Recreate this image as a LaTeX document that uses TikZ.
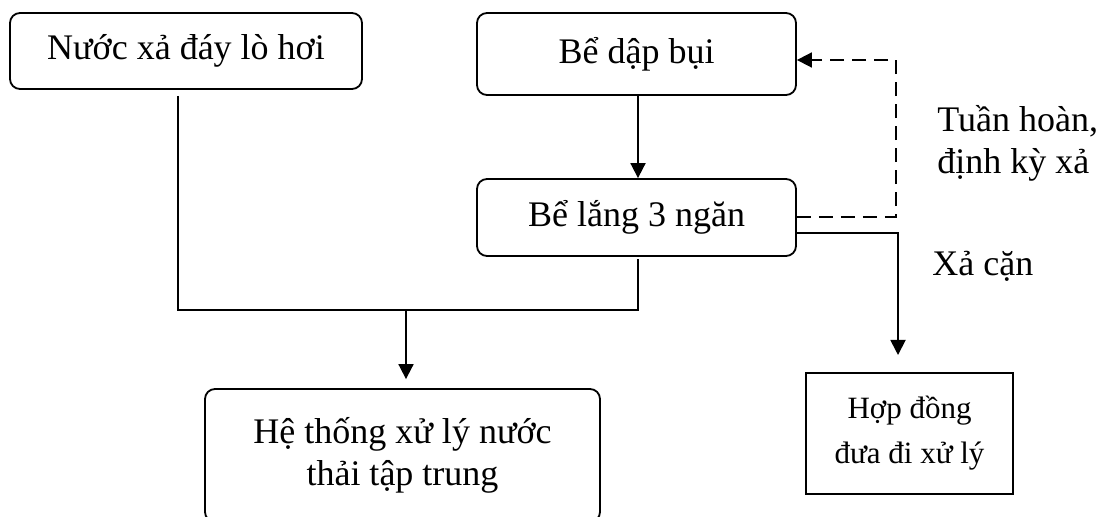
\documentclass[tikz,border=0pt]{standalone}
\usepackage{fontspec}
\setmainfont{Liberation Serif}
\usetikzlibrary{arrows.meta,calc}
\begin{document}
\begin{tikzpicture}[x=0.5pt,y=-0.5pt,
  every node/.style={inner sep=0pt,font=\fontsize{18pt}{21pt}\selectfont},
  rbox/.style={draw,line width=0.9pt,rounded corners=5pt,align=center},
  sbox/.style={draw,line width=0.9pt,align=center},
  conn/.style={line width=0.9pt},
  arr/.style={conn,-{Triangle[length=7.5pt,width=7.5pt]}},
  lbl/.style={align=left}]
\clip (0,0) rectangle (1101,517);
\fill[white] (0,0) rectangle (1101,517);
% boxes
\node[rbox,minimum width=176pt,minimum height=38pt] (b1) at (186,51) {Nước xả đáy lò hơi};
\node[rbox,minimum width=159.5pt,minimum height=41pt] (b2) at (636.5,54) {Bể dập bụi};
\node[rbox,minimum width=159.5pt,minimum height=38.5pt] (b3) at (636.5,217.5) {Bể lắng 3 ngăn};
\node[rbox,minimum width=197.5pt,minimum height=66.5pt] (b5) at (402.5,455.5) {Hệ thống xử lý nước\\thải tập trung};
\node[sbox,minimum width=103.5pt,minimum height=60.5pt,font=\fontsize{15.5pt}{22.5pt}\selectfont] (b4) at (909.5,433.5) {Hợp đồng\\đưa đi xử lý};
% labels
\node[lbl,anchor=base west] (t1) at (937,174) {Tuần hoàn,\\định kỳ xả};
\node[anchor=base west] (t2) at (932,276) {Xả cặn};
% junctions
\coordinate (jL) at (178,310);
\coordinate (jR) at (638,310);
\coordinate (jM) at (406,310);
\coordinate (dA) at (896,217);
\coordinate (dB) at (896,60);
\coordinate (sA) at (898,233);
\coordinate (sB) at (898,355);
% connectors
\draw[conn] ([yshift=-3pt]b1.south -| jL) -- (jL) -- (jR) -- ([yshift=-1pt]b3.south -| jR);
\draw[arr] (jM) -- ([yshift=4.5pt]b5.north -| jM);
\draw[arr] (b2.south -| jR) -- (b3.north -| jR);
\draw[arr,dashed,dash pattern=on 7pt off 4pt] (b3.east |- dA) -- (dA) -- (dB) -- (b2.east |- dB);
\draw[arr] (b3.east |- sA) -- (sA) -- (sB);
\end{tikzpicture}
\end{document}
